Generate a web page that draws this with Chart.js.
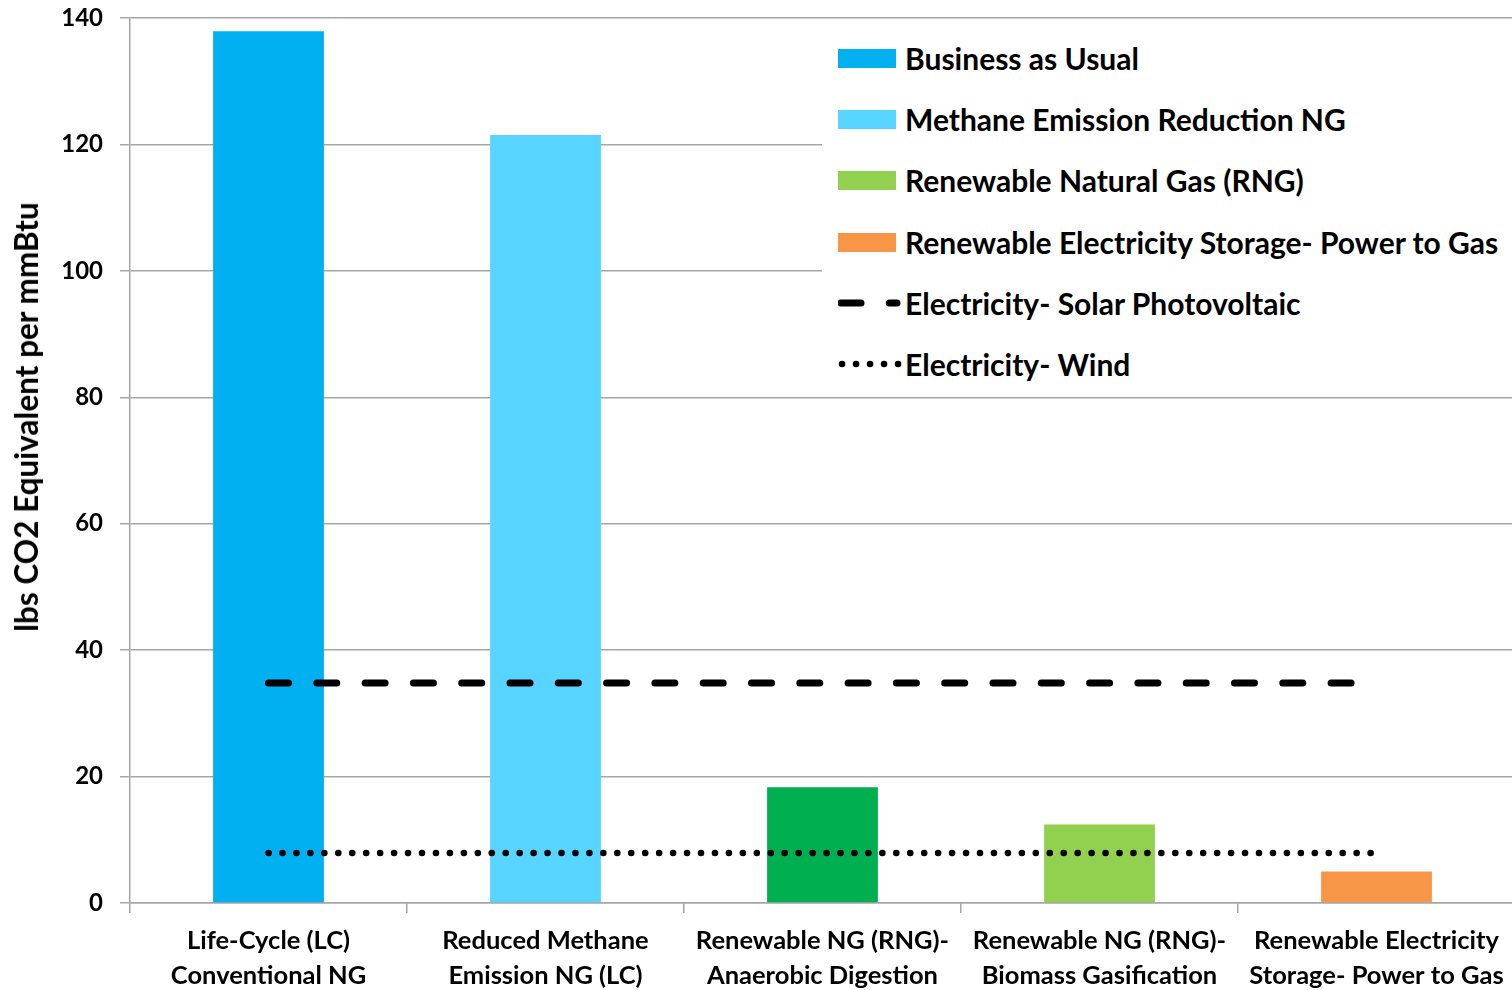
<!DOCTYPE html>
<html>
<head>
<meta charset="utf-8">
<script src="https://cdn.jsdelivr.net/npm/chart.js@4.4.1/dist/chart.umd.min.js"></script>
<style>
html,body{margin:0;padding:0;background:#fff;overflow:hidden;width:1512px;height:990px;}
#wrap{position:absolute;left:0;top:0;width:1515px;height:990px;}
#legend{position:absolute;left:822px;top:26px;width:700px;height:366px;background:#fff;font-family:Lato,sans-serif;font-weight:bold;font-size:30px;color:#000;}
.row{position:absolute;left:0;width:700px;height:40px;}
.sw{position:absolute;left:16px;top:11px;width:58px;height:19px;}
.svgsw{position:absolute;left:16px;top:15px;}
.lt{position:absolute;left:83px;top:0;line-height:40px;white-space:nowrap;}
#ytitle{position:absolute;left:26px;top:417px;transform:translate(-50%,-50%) rotate(-90deg);font-family:Lato,sans-serif;font-weight:bold;font-size:31.5px;white-space:nowrap;color:#000;}
</style>
</head>
<body>
<div id="wrap"><canvas id="c" width="1515" height="990"></canvas></div>
<div id="ytitle"></div>
<div id="legend"></div>
<script>
// ---- data ----
const categories = [
  ["Life-Cycle (LC)", "Conventional NG"],
  ["Reduced Methane", "Emission NG (LC)"],
  ["Renewable NG (RNG)-", "Anaerobic Digestion"],
  ["Renewable NG (RNG)-", "Biomass Gasification"],
  ["Renewable Electricity", "Storage- Power to Gas"]
];
const barValues = [137.9, 121.5, 18.3, 12.4, 5.0];
const barColors = ["#00B0F0", "#57D4FF", "#00B050", "#92D050", "#F79646"];
const solarPV = [34.8, 34.8, 34.8, 34.8, 34.8];
const wind = [7.9, 7.9, 7.9, 7.9, 7.9];
const yTickValues = [0, 20, 40, 60, 80, 100, 120, 140];
const yTitle = "lbs CO2 Equivalent per mmBtu";
const legendLabels = [
  "Business as Usual",
  "Methane Emission Reduction NG",
  "Renewable Natural Gas (RNG)",
  "Renewable Electricity Storage- Power to Gas",
  "Electricity- Solar Photovoltaic",
  "Electricity- Wind"
];
const legendKinds = ["box", "box", "box", "box", "dash", "dot"];
const legendColors = ["#00B0F0", "#57D4FF", "#92D050", "#F79646", "#000000", "#000000"];

// ---- legend & title (HTML) ----
document.getElementById('ytitle').textContent = yTitle;
const lg = document.getElementById('legend');
legendLabels.forEach((lab, i) => {
  const row = document.createElement('div');
  row.className = 'row';
  row.style.top = (12 + i * 61.2) + 'px';
  let sw;
  if (legendKinds[i] === 'box') {
    sw = `<div class="sw" style="background:${legendColors[i]}"></div>`;
  } else if (legendKinds[i] === 'dash') {
    sw = `<svg class="svgsw" width="66" height="10"><line x1="3" y1="5" x2="59" y2="5" stroke="${legendColors[i]}" stroke-width="7" stroke-linecap="round" stroke-dasharray="20 28.3"/></svg>`;
  } else {
    sw = `<svg class="svgsw" width="66" height="10"><line x1="4" y1="5" x2="61" y2="5" stroke="${legendColors[i]}" stroke-width="6.5" stroke-linecap="round" stroke-dasharray="0.1 13.9"/></svg>`;
  }
  row.innerHTML = sw + `<span class="lt">${lab}</span>`;
  lg.appendChild(row);
});

// ---- chart ----
const gridColor = '#A6A6A6';
new Chart(document.getElementById('c'), {
  data: {
    labels: categories,
    datasets: [
      { type: 'line', label: legendLabels[4], data: solarPV, borderColor: '#000', borderWidth: 7,
        borderDash: [20, 28.3], borderCapStyle: 'round', pointRadius: 0, fill: false, order: 0 },
      { type: 'line', label: legendLabels[5], data: wind, borderColor: '#000', borderWidth: 6.5,
        borderDash: [0.1, 13.85], borderCapStyle: 'round', pointRadius: 0, fill: false, order: 0 },
      { type: 'bar', label: 'values', data: barValues, backgroundColor: barColors, borderWidth: 0,
        barPercentage: 0.4, categoryPercentage: 1.0, order: 1 }
    ]
  },
  options: {
    responsive: false,
    devicePixelRatio: 1,
    animation: false,
    layout: { padding: { top: 18, right: 0, left: 0, bottom: 0 } },
    plugins: { legend: { display: false }, tooltip: { enabled: false } },
    scales: {
      x: {
        offset: true,
        grid: { display: true, drawOnChartArea: false, drawTicks: true, tickLength: 10, color: gridColor, lineWidth: 1.5, offset: true },
        border: { display: true, color: gridColor, width: 1.5 },
        ticks: { color: '#000', font: { family: 'Lato', weight: 'bold', size: 25.5, lineHeight: 1.37 }, padding: 10, maxRotation: 0, autoSkip: false },
        afterFit: (s) => { s.height = 87; s.paddingLeft = 0; s.paddingRight = 0; }
      },
      y: {
        min: 0, max: 140,
        afterBuildTicks: (s) => { s.ticks = yTickValues.map(v => ({ value: v })); },
        grid: { color: gridColor, lineWidth: 1.5, tickLength: 10, drawTicks: true },
        border: { display: true, color: gridColor, width: 1.5 },
        ticks: { color: '#000', font: { family: 'Lato', weight: 'bold', size: 24 }, padding: 17 },
        afterFit: (s) => { s.width = 130; s.paddingTop = 0; s.paddingBottom = 0; }
      }
    }
  }
});
</script>
</body>
</html>
